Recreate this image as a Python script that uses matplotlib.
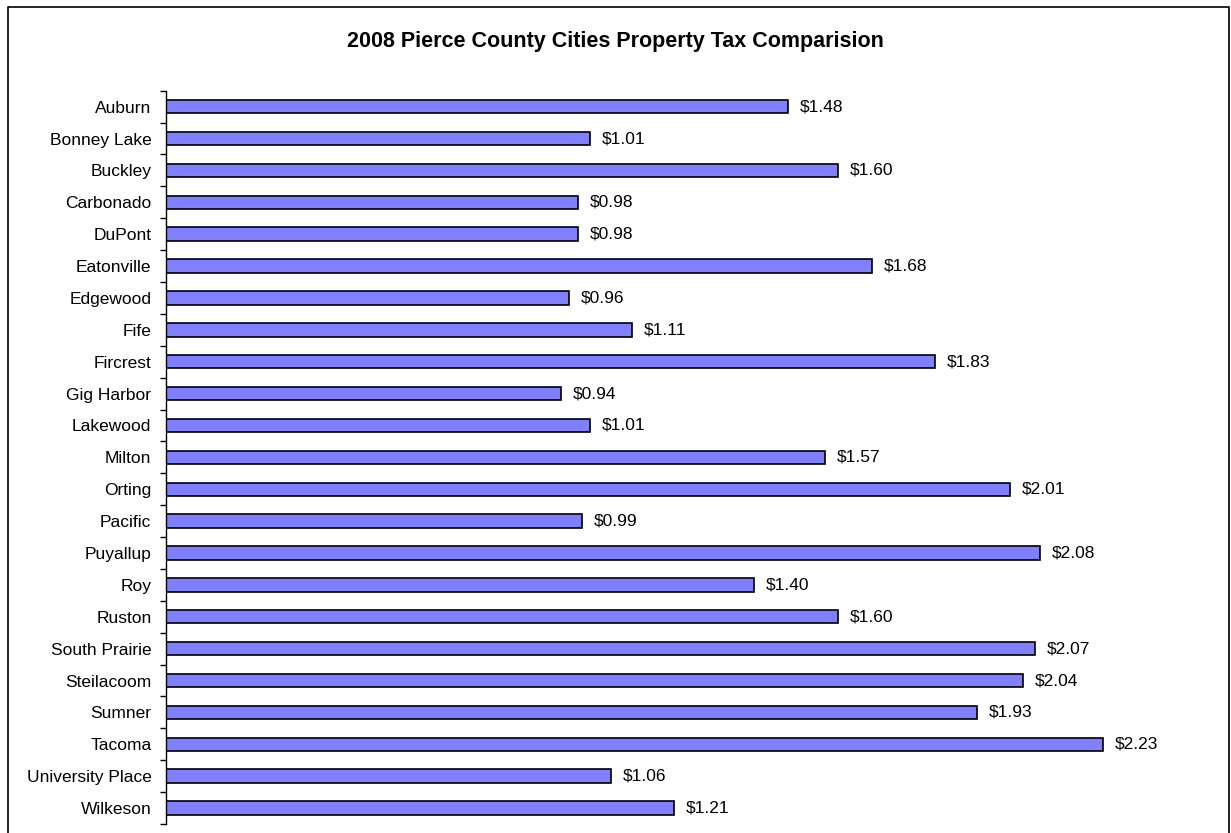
import matplotlib
matplotlib.use("Agg")
import matplotlib.pyplot as plt
from matplotlib.lines import Line2D

cities = ["Auburn", "Bonney Lake", "Buckley", "Carbonado", "DuPont", "Eatonville",
          "Edgewood", "Fife", "Fircrest", "Gig Harbor", "Lakewood", "Milton", "Orting",
          "Pacific", "Puyallup", "Roy", "Ruston", "South Prairie", "Steilacoom",
          "Sumner", "Tacoma", "University Place", "Wilkeson"]
rates = [1.48, 1.01, 1.60, 0.98, 0.98, 1.68, 0.96, 1.11, 1.83, 0.94, 1.01, 1.57,
         2.01, 0.99, 2.08, 1.40, 1.60, 2.07, 2.04, 1.93, 2.23, 1.06, 1.21]
title = "2008 Pierce County Cities Property Tax Comparision"

plt.rcParams['font.family'] = ['Liberation Sans', 'DejaVu Sans']

W, H = 1231, 833
fig = plt.figure(figsize=(W / 100, H / 100), dpi=100)
# outer chart border (left, top, right; bottom edge falls outside the image)
xl, xr, yt = 7.5 / W, 1228.5 / W, 1 - 6.5 / H
fig.lines.append(Line2D([xl, xl, xr, xr], [0, yt, yt, 0], transform=fig.transFigure,
                        color='black', linewidth=1.2))

ax = fig.add_axes([166 / W, 1 - 824 / H, (1216 - 166) / W, (824 - 90.7) / H])
n = len(cities)
ys = list(range(n))
ax.barh(ys, rates, height=0.42, color='#8080FF', edgecolor='black', linewidth=1.2)
ax.set_xlim(0, 2.5)
ax.set_ylim(n - 0.5, -0.5)
for y, v in zip(ys, rates):
    ax.text(v + 0.028, y, f"${v:.2f}", va='center', ha='left', fontsize=12.5)

ax.set_yticks(ys)
ax.set_yticklabels(cities, fontsize=12.5)
ax.tick_params(axis='y', length=0, pad=10.5)
ax.set_yticks([i - 0.5 for i in range(n + 1)], minor=True)
ax.tick_params(axis='y', which='minor', length=4.5, width=1, direction='out')
ax.set_xticks([])
for s in ['top', 'right', 'bottom']:
    ax.spines[s].set_visible(False)
ax.spines['left'].set_linewidth(1)

fig.text(0.5, 1 - 42 / H, title, ha='center', va='center', fontsize=15.5, fontweight='bold')

fig.savefig("out.png", dpi=100)
